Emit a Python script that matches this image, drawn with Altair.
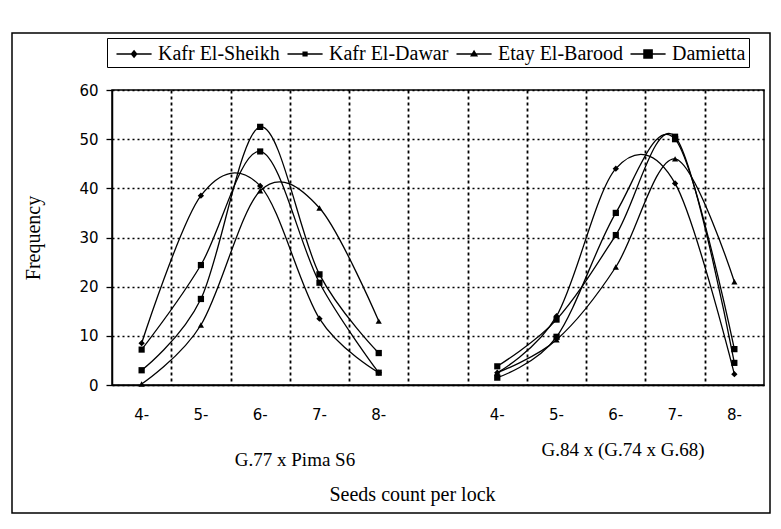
import altair as alt
import pandas as pd

# ---- data ----
categories = ["4-", "5-", "6-", "7-", "8-"]
groups = ["G.77 x Pima S6", "G.84 x (G.74 x G.68)"]
series = ["Kafr El-Sheikh", "Kafr El-Dawar", "Etay El-Barood", "Damietta"]

kafr_el_sheikh_g1 = [8.5, 38.5, 40.5, 13.5, 2.5]
kafr_el_sheikh_g2 = [2.5, 14.0, 44.0, 41.0, 2.2]
kafr_el_dawar_g1 = [3.0, 17.5, 52.5, 22.5, 6.5]
kafr_el_dawar_g2 = [1.5, 9.8, 35.0, 50.0, 7.3]
etay_el_barood_g1 = [0.2, 12.2, 39.5, 36.0, 13.0]
etay_el_barood_g2 = [2.5, 9.2, 24.0, 46.0, 21.0]
damietta_g1 = [7.2, 24.4, 47.5, 20.8, 2.5]
damietta_g2 = [3.8, 13.3, 30.5, 50.5, 4.5]

values = {
    "Kafr El-Sheikh": [kafr_el_sheikh_g1, kafr_el_sheikh_g2],
    "Kafr El-Dawar": [kafr_el_dawar_g1, kafr_el_dawar_g2],
    "Etay El-Barood": [etay_el_barood_g1, etay_el_barood_g2],
    "Damietta": [damietta_g1, damietta_g2],
}

rows = []
for s in series:
    for gi, g in enumerate(groups):
        for ci, c in enumerate(categories):
            rows.append({"series": s, "group": g, "key": s + "|" + g,
                         "cat": c, "pos": gi * (len(categories) + 1) + ci,
                         "value": values[s][gi][ci]})
df = pd.DataFrame(rows)

labels_df = pd.DataFrame([{"cat": c, "pos": gi * (len(categories) + 1) + ci}
                          for gi in range(len(groups)) for ci, c in enumerate(categories)])

W, H = 652, 295
SERIF = "Liberation Serif"
SANS = "DejaVu Sans"

xscale = alt.Scale(domain=[-0.5, 10.5], nice=False, zero=False)
yscale = alt.Scale(domain=[0, 60], nice=False)

x_enc = alt.X("pos:Q", scale=xscale,
              axis=alt.Axis(values=[i + 0.5 for i in range(10)], labels=False, ticks=False,
                            grid=True, gridColor="black", gridDash=[3, 3], gridWidth=1.8,
                            gridOpacity=1, domain=True, domainColor="black", domainWidth=1.5,
                            title="Seeds count per lock", titleFont=SERIF, titleFontSize=20,
                            titleFontWeight="normal", titleColor="black", titlePadding=99,
                            titleX=300))
y_enc = alt.Y("value:Q", scale=yscale,
              axis=alt.Axis(values=[0, 10, 20, 30, 40, 50, 60], grid=True, gridColor="black",
                            gridDash=[2, 3], gridWidth=1.6, gridOpacity=1,
                            domain=True, domainColor="black", domainWidth=1.5,
                            ticks=True, tickColor="black", tickSize=6, tickWidth=1.3,
                            labelFont=SANS, labelFontSize=15, labelColor="black", labelPadding=8,
                            title="Frequency", titleFont=SERIF, titleFontSize=20,
                            titleFontWeight="normal", titleColor="black", titlePadding=35))

frame = alt.Chart(pd.DataFrame({"a": [0]})).mark_rect(
    filled=False, stroke="black", strokeWidth=1.5
).encode(x=alt.value(-100), x2=alt.value(658), y=alt.value(-57), y2=alt.value(423))

lines = alt.Chart(df).mark_line(interpolate="cardinal", color="black", strokeWidth=1.3).encode(
    x=x_enc, y=y_enc, detail="key:N")

points = alt.Chart(df).mark_point(filled=True, color="black", opacity=1).encode(
    x="pos:Q", y="value:Q",
    shape=alt.Shape("series:N", scale=alt.Scale(domain=series,
                    range=["diamond", "square", "triangle-up", "square"]), legend=None),
    size=alt.Size("series:N", scale=alt.Scale(domain=series, range=[40, 38, 50, 140]), legend=None),
)

# legend symbols: a thin filled bar (the line) with the marker in its middle
BAR = "M-0.5,-0.05H2.2V0.05H-0.5Z"
legend_paths = [
    BAR + "M0.85,-0.32L1.12,0L0.85,0.32L0.58,0Z",
    BAR + "M0.65,-0.19H1.05V0.19H0.65Z",
    BAR + "M0.85,-0.32L1.16,0.2H0.54Z",
    BAR + "M0.48,-0.37H1.22V0.37H0.48Z",
]
legend_layer = alt.Chart(df).mark_point(filled=True, color="black", opacity=0).encode(
    x="pos:Q", y="value:Q",
    shape=alt.Shape("series:N", scale=alt.Scale(domain=series, range=legend_paths),
                    legend=alt.Legend(title=None, orient="none", legendX=-5, legendY=-52,
                                      direction="horizontal", columns=4,
                                      symbolSize=676, symbolFillColor="black",
                                      symbolStrokeWidth=0,
                                      symbolOpacity=1, labelFont=SERIF, labelFontSize=20,
                                      labelColor="black", labelOffset=22, columnPadding=1,
                                      strokeColor="black", padding=3, labelLimit=300)),
)

cat_labels = alt.Chart(labels_df).mark_text(font=SANS, fontSize=15, color="black",
                                            baseline="middle").encode(
    x="pos:Q", y=alt.value(325), text="cat:N")

group_df = pd.DataFrame({"group": groups})
g1 = alt.Chart(group_df[group_df.group == groups[0]]).mark_text(
    font=SERIF, fontSize=19, color="black", baseline="middle").encode(
    x=alt.value(183), y=alt.value(370), text="group:N")
g2 = alt.Chart(group_df[group_df.group == groups[1]]).mark_text(
    font=SERIF, fontSize=19, color="black", baseline="middle").encode(
    x=alt.value(511), y=alt.value(360), text="group:N")

chart = alt.layer(frame, lines, points, legend_layer, cat_labels, g1, g2).resolve_scale(
    shape="independent", size="independent"
).properties(
    width=W, height=H, autosize="none",
    padding={"left": 104, "top": 82, "right": 8, "bottom": 130},
    background="white",
).configure_view(stroke="black", strokeWidth=1.5)

chart.save("out.html", embed_options={"renderer": "svg", "actions": False})
